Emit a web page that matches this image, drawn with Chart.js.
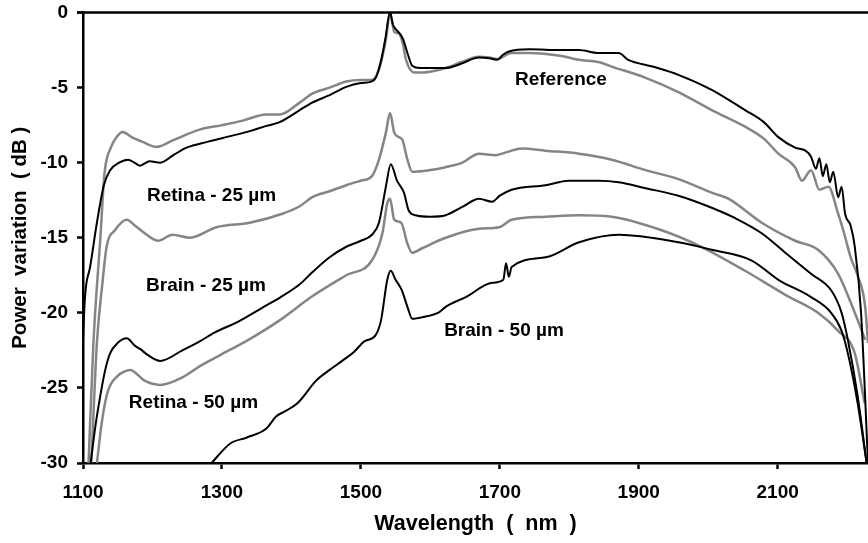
<!DOCTYPE html>
<html>
<head>
<meta charset="utf-8">
<script src="https://cdn.jsdelivr.net/npm/chart.js@4"></script>
<style>
html,body{margin:0;padding:0;background:#fff;}
#wrap{width:868px;height:543px;position:relative;}
</style>
</head>
<body>
<div id="wrap"><canvas id="c" width="868" height="543"></canvas></div>
<script>
// ---- tick labels ----
const xTicks = [1100, 1300, 1500, 1700, 1900, 2100];
const yTicks = [0, -5, -10, -15, -20, -25, -30];

// ---- Reference (brain, black) ----
const refBrainNm = [1098,1100,1110,1120,1130,1139,1152,1165,1174,1182,1196,1211,1230,1249,1280,1315,1340,1364,1383,1412,1430,1455,1479,1500,1515,1522,1530,1535,1542,1546,1551,1556,1561,1567,1574,1585,1598,1622,1645,1670,1685,1696,1705,1713,1742,1789,1814,1842,1871,1885,1920,1957,2005,2053,2080,2101,2125,2140,2148,2155,2160,2165,2170,2175,2180,2187,2192,2197,2205,2211,2220,2230];
const refBrainDb = [-30,-22,-17,-14,-11.5,-10.5,-10.0,-9.8,-10.0,-10.2,-9.9,-10.0,-9.5,-9.0,-8.6,-8.2,-7.9,-7.55,-7.3,-6.5,-6.0,-5.5,-4.95,-4.7,-4.6,-4.3,-3.0,-1.8,0,-0.8,-1.15,-1.4,-1.8,-2.7,-3.55,-3.7,-3.7,-3.7,-3.4,-3.0,-3.05,-3.15,-2.8,-2.6,-2.45,-2.5,-2.5,-2.7,-2.7,-3.15,-3.6,-4.15,-5.15,-6.5,-7.3,-8.3,-9.0,-9.2,-9.6,-10.4,-9.7,-10.9,-10.1,-11.3,-10.6,-12.3,-11.6,-13.4,-14.2,-15.6,-20,-30];

// ---- Reference (retina, gray) ----
const refRetinaNm = [1108,1115,1125,1131,1140,1150,1157,1170,1185,1206,1230,1268,1300,1330,1364,1383,1412,1430,1455,1479,1500,1515,1526,1536,1542,1545,1548,1555,1560,1565,1577,1588,1605,1622,1645,1670,1685,1696,1717,1742,1789,1814,1842,1861,1910,1957,2005,2053,2080,2101,2125,2135,2148,2160,2173,2187,2195,2205,2215,2226,2230];
const refRetinaDb = [-30,-22,-15,-10.7,-9.0,-8.2,-7.95,-8.3,-8.6,-8.95,-8.5,-7.8,-7.5,-7.2,-6.8,-6.8,-6.0,-5.4,-5.0,-4.6,-4.5,-4.5,-3.8,-1.8,0,-0.6,-1.3,-1.4,-2.0,-3.15,-4.0,-4.0,-3.9,-3.7,-3.3,-2.95,-3.0,-3.1,-2.7,-2.7,-2.9,-3.15,-3.3,-3.6,-4.35,-5.3,-6.5,-7.6,-8.4,-9.4,-10.3,-11.2,-10.5,-11.8,-11.6,-13.4,-14.6,-16.3,-17.5,-19.6,-22];

// ---- Retina - 25 um (gray) ----
const retina25Nm = [1112,1120,1128,1134,1146,1163,1175,1186,1208,1229,1254,1292,1340,1387,1412,1430,1455,1479,1500,1516,1526,1536,1542,1548,1555,1560,1567,1574,1598,1622,1646,1670,1694,1710,1732,1766,1814,1861,1910,1957,2005,2029,2077,2125,2158,2187,2211,2226];
const retina25Db = [-30,-22,-18,-15.6,-14.5,-13.8,-14.2,-14.6,-15.2,-14.8,-15.0,-14.3,-14.0,-13.4,-12.9,-12.3,-11.9,-11.5,-11.2,-10.9,-9.8,-8.0,-6.7,-8.0,-8.3,-8.5,-9.8,-10.6,-10.5,-10.3,-10.0,-9.4,-9.5,-9.3,-9.05,-9.2,-9.4,-9.8,-10.5,-11.1,-12.0,-12.4,-14.0,-15.2,-15.8,-17.4,-20.0,-21.8];

// ---- Brain - 25 um (black) ----
const brain25Nm = [1111,1118,1125,1132,1139,1150,1163,1175,1182,1193,1211,1243,1268,1290,1323,1364,1383,1412,1430,1455,1479,1500,1516,1526,1536,1543,1552,1562,1569,1579,1600,1622,1646,1670,1689,1700,1717,1766,1799,1842,1871,1910,1957,2005,2039,2077,2111,2148,2177,2192,2201,2215,2228];
const brain25Db = [-30,-27.5,-25.5,-23.8,-22.7,-22.0,-21.7,-22.2,-22.4,-22.8,-23.2,-22.5,-21.9,-21.3,-20.6,-19.5,-19.0,-18.1,-17.3,-16.3,-15.6,-15.2,-14.8,-14.0,-11.6,-10.1,-11.2,-12.0,-13.2,-13.5,-13.6,-13.5,-12.95,-12.4,-12.6,-12.2,-11.8,-11.5,-11.2,-11.2,-11.3,-11.7,-12.2,-13.0,-13.7,-14.7,-16.0,-17.4,-18.5,-20.0,-21.8,-25.5,-30];

// ---- Retina - 50 um (gray) ----
const retina50Nm = [1120,1128,1136,1150,1160,1168,1188,1211,1243,1270,1298,1338,1383,1430,1479,1516,1531,1538,1542,1548,1558,1567,1574,1588,1622,1670,1699,1717,1766,1814,1861,1933,1990,2053,2111,2158,2187,2211,2225];
const retina50Db = [-30,-27,-25.2,-24.2,-23.9,-23.8,-24.5,-24.8,-24.3,-23.5,-22.8,-21.8,-20.5,-18.9,-17.5,-16.5,-14.7,-12.7,-12.4,-13.8,-14.0,-15.4,-16.0,-15.7,-15.0,-14.4,-14.3,-13.8,-13.6,-13.5,-13.6,-14.5,-15.6,-17.2,-18.8,-20.0,-21.2,-22.7,-26];

// ---- Brain - 50 um (black) ----
const brain50Nm = [1285,1312,1336,1364,1378,1393,1409,1436,1455,1473,1490,1505,1521,1529,1538,1543,1550,1559,1567,1574,1588,1613,1622,1651,1689,1705,1709,1713,1717,1766,1814,1871,1957,2005,2062,2101,2148,2177,2192,2201,2215,2228];
const brain50Db = [-30,-28.7,-28.3,-27.7,-26.9,-26.5,-26.0,-24.5,-23.8,-23.2,-22.6,-21.9,-21.5,-20.5,-17.8,-17.2,-17.8,-18.5,-19.6,-20.4,-20.3,-19.95,-19.6,-18.95,-18.0,-17.8,-16.7,-17.6,-16.95,-16.3,-15.3,-14.8,-15.3,-15.8,-16.5,-17.8,-18.95,-20.0,-21.2,-22.7,-26,-30];

// ---- curve labels ----
const labelTexts = ['Reference', 'Retina - 25 \u00b5m', 'Brain - 25 \u00b5m', 'Retina - 50 \u00b5m', 'Brain - 50 \u00b5m'];
const labelNm = [1788, 1285, 1277, 1259, 1706];
const labelDb = [-4.5, -12.2, -18.2, -26.0, -21.2];

const BLACK = '#000000';
const GRAY = '#858585';
const FONT = "'Liberation Sans', Arial, sans-serif";

function pts(xs, ys) { return xs.map((x, i) => ({ x: x, y: ys[i] })); }
function ds(name, xs, ys, color, w, order) {
  return { label: name, data: pts(xs, ys), borderColor: color, borderWidth: w,
           showLine: true, pointRadius: 0, cubicInterpolationMode: 'monotone',
           fill: false, order: order };
}

const textPlugin = {
  id: 'curveText',
  afterDatasetsDraw(chart) {
    const ctx = chart.ctx, xs = chart.scales.x, ys = chart.scales.y, a = chart.chartArea;
    ctx.save();
    // top frame line
    ctx.strokeStyle = '#000'; ctx.lineWidth = 2.5;
    ctx.beginPath(); ctx.moveTo(a.left - 6, a.top); ctx.lineTo(a.right, a.top); ctx.stroke();
    ctx.fillStyle = '#000';
    ctx.font = 'bold 19px ' + FONT;
    ctx.textAlign = 'center'; ctx.textBaseline = 'middle';
    labelTexts.forEach((t, i) => {
      ctx.fillText(t, xs.getPixelForValue(labelNm[i]), ys.getPixelForValue(labelDb[i]));
    });
    ctx.restore();
  }
};

new Chart(document.getElementById('c'), {
  type: 'scatter',
  data: {
    datasets: [
      ds('Reference (brain)', refBrainNm, refBrainDb, BLACK, 2, 0),
      ds('Brain - 25 um', brain25Nm, brain25Db, BLACK, 2, 0),
      ds('Brain - 50 um', brain50Nm, brain50Db, BLACK, 2, 0),
      ds('Reference (retina)', refRetinaNm, refRetinaDb, GRAY, 2.5, 1),
      ds('Retina - 25 um', retina25Nm, retina25Db, GRAY, 2.5, 1),
      ds('Retina - 50 um', retina50Nm, retina50Db, GRAY, 2.5, 1)
    ]
  },
  options: {
    responsive: false,
    animation: false,
    events: [],
    layout: { padding: { top: 12.5, right: 0, left: 0, bottom: 0 } },
    plugins: { legend: { display: false }, tooltip: { enabled: false } },
    scales: {
      x: {
        type: 'linear', min: 1100, max: 2230,
        afterBuildTicks: s => { s.ticks = xTicks.map(v => ({ value: v })); },
        afterFit: s => { s.height = 80; s.paddingLeft = 0; s.paddingRight = 0; },
        grid: { display: true, drawOnChartArea: false, drawTicks: true, tickLength: 6, tickWidth: 2.5, tickColor: '#000' },
        border: { display: true, color: '#000', width: 2.5 },
        ticks: { color: '#000', font: { family: FONT, size: 19, weight: 'bold' }, padding: 12, maxRotation: 0, autoSkip: false,
                 callback: v => String(v) },
        title: { display: true, text: 'Wavelength  (  nm  )', color: '#000', font: { family: FONT, size: 21.5, weight: 'bold' }, padding: { top: 4, bottom: 6 } }
      },
      y: {
        type: 'linear', min: -30, max: 0,
        afterBuildTicks: s => { s.ticks = yTicks.map(v => ({ value: v })); },
        afterFit: s => { s.width = 83; s.paddingTop = 0; s.paddingBottom = 0; },
        grid: { display: true, drawOnChartArea: false, drawTicks: true, tickLength: 6, tickWidth: 2.5, tickColor: '#000' },
        border: { display: true, color: '#000', width: 2.5 },
        ticks: { color: '#000', font: { family: FONT, size: 19, weight: 'bold' }, padding: 9, autoSkip: false,
                 callback: v => String(v) },
        title: { display: true, text: 'Power  variation  ( dB )', color: '#000', font: { family: FONT, size: 20.5, weight: 'bold' }, padding: { top: 8, bottom: 4 } }
      }
    }
  },
  plugins: [textPlugin]
});
</script>
</body>
</html>
